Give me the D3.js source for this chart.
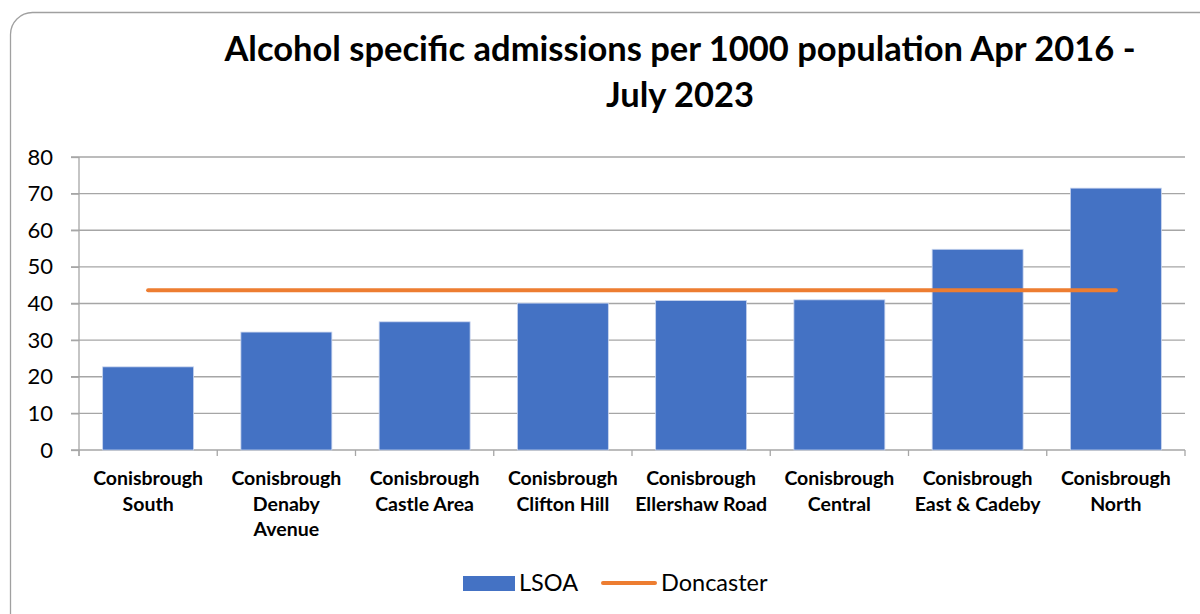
<!DOCTYPE html>
<html>
<head>
<meta charset="utf-8">
<script src="https://cdn.jsdelivr.net/npm/d3@7"></script>
<style>
  html, body { margin: 0; padding: 0; background: #fff; }
  svg { display: block; }
  text { font-family: Lato, "Open Sans", sans-serif; fill: #000; }
</style>
</head>
<body>
<svg id="chart" width="1200" height="614"></svg>
<script>
// Areas (each label split into lines), LSOA rates and the Doncaster average
const areaLabels = [
  ["Conisbrough", "South"],
  ["Conisbrough", "Denaby", "Avenue"],
  ["Conisbrough", "Castle Area"],
  ["Conisbrough", "Clifton Hill"],
  ["Conisbrough", "Ellershaw Road"],
  ["Conisbrough", "Central"],
  ["Conisbrough", "East & Cadeby"],
  ["Conisbrough", "North"]
];
const lsoaRates = [22.7, 32.2, 35.0, 40.1, 40.8, 41.0, 54.8, 71.5];
const doncasterRate = [43.6, 43.6, 43.6, 43.6, 43.6, 43.6, 43.6, 43.6];
const yTicks = [0, 10, 20, 30, 40, 50, 60, 70, 80];
const titleLines = ["Alcohol specific admissions per 1000 population Apr 2016 -", "July 2023"];
const seriesNames = ["LSOA", "Doncaster"];

const blue = "#4472C4", orange = "#ED7D31", grid = "#a6a6a6";
const svg = d3.select("#chart");

// Outer frame with rounded corner
svg.append("rect")
  .attr("x", 10.5).attr("y", 12.5)
  .attr("width", 1230).attr("height", 640)
  .attr("rx", 22).attr("ry", 22)
  .attr("fill", "none").attr("stroke", "#a0a0a0").attr("stroke-width", 1.3);

const plot = { left: 79, right: 1185, top: 157, bottom: 450 };
const keys = areaLabels.map((d, i) => i);

const x = d3.scaleBand().domain(keys)
  .range([plot.left, plot.right]).paddingInner(0.342).paddingOuter(0.171);
const y = d3.scaleLinear().domain([0, 80]).range([plot.bottom, plot.top]);

// Title
svg.append("text")
  .attr("x", 680).attr("text-anchor", "middle")
  .attr("font-size", 34.5).attr("font-weight", 700)
  .selectAll("tspan").data(titleLines).join("tspan")
  .attr("x", 680).attr("y", (d, i) => 61 + i * 46)
  .text(d => d);

// Horizontal gridlines
svg.append("g").selectAll("line").data(yTicks.filter(t => t > 0)).join("line")
  .attr("x1", plot.left - 8).attr("x2", plot.right)
  .attr("y1", d => y(d)).attr("y2", d => y(d))
  .attr("stroke", grid).attr("stroke-width", 1.3);

// Y axis
const yAxis = svg.append("g")
  .attr("transform", `translate(${plot.left},0)`)
  .call(d3.axisLeft(y).tickValues(yTicks).tickSize(8).tickPadding(18));
yAxis.select(".domain").attr("stroke", grid).attr("stroke-width", 1.3)
  .attr("d", `M0,${plot.top}V${plot.bottom + 6}`);
yAxis.selectAll(".tick line").attr("stroke", grid).attr("stroke-width", 1.3);
yAxis.selectAll(".tick text").attr("font-size", 22).attr("font-family", "Lato, sans-serif").attr("fill", "#000");

// X axis baseline and category boundary ticks
const bounds = keys.map(k => x(k) - x.step() * x.paddingInner() / 2);
bounds.push(plot.right);
svg.append("line")
  .attr("x1", plot.left - 8).attr("x2", plot.right)
  .attr("y1", plot.bottom).attr("y2", plot.bottom)
  .attr("stroke", grid).attr("stroke-width", 1.3);
svg.append("g").selectAll("line").data(bounds).join("line")
  .attr("x1", d => d).attr("x2", d => d)
  .attr("y1", plot.bottom).attr("y2", plot.bottom + 6)
  .attr("stroke", grid).attr("stroke-width", 1.3);

// Bars
svg.append("g").selectAll("rect").data(lsoaRates).join("rect")
  .attr("x", (d, i) => x(i)).attr("width", x.bandwidth())
  .attr("y", d => y(d)).attr("height", d => y(0) - y(d))
  .attr("fill", blue).attr("stroke", "#c9d5ee").attr("stroke-width", 0.8);

// Doncaster average line
const line = d3.line().x((d, i) => x(i) + x.bandwidth() / 2).y(d => y(d));
svg.append("path").datum(doncasterRate)
  .attr("d", line).attr("fill", "none")
  .attr("stroke", orange).attr("stroke-width", 4).attr("stroke-linecap", "round");

// Category labels
const xl = svg.append("g").selectAll("text").data(areaLabels).join("text")
  .attr("text-anchor", "middle").attr("font-size", 19.5).attr("font-weight", 700);
xl.selectAll("tspan").data((d, i) => d.map(s => ({ s, i }))).join("tspan")
  .attr("x", d => x(d.i) + x.bandwidth() / 2)
  .attr("y", (d, j) => 485 + j * 25.5)
  .text(d => d.s);

// Legend
const lg = svg.append("g");
lg.append("rect").attr("x", 463).attr("y", 576).attr("width", 52).attr("height", 15).attr("fill", blue);
lg.append("text").attr("x", 519).attr("y", 591).attr("font-size", 23.5).text(seriesNames[0]);
lg.append("line").attr("x1", 603).attr("x2", 655).attr("y1", 583).attr("y2", 583)
  .attr("stroke", orange).attr("stroke-width", 4).attr("stroke-linecap", "round");
lg.append("text").attr("x", 661).attr("y", 591).attr("font-size", 23.5).text(seriesNames[1]);
</script>
</body>
</html>
